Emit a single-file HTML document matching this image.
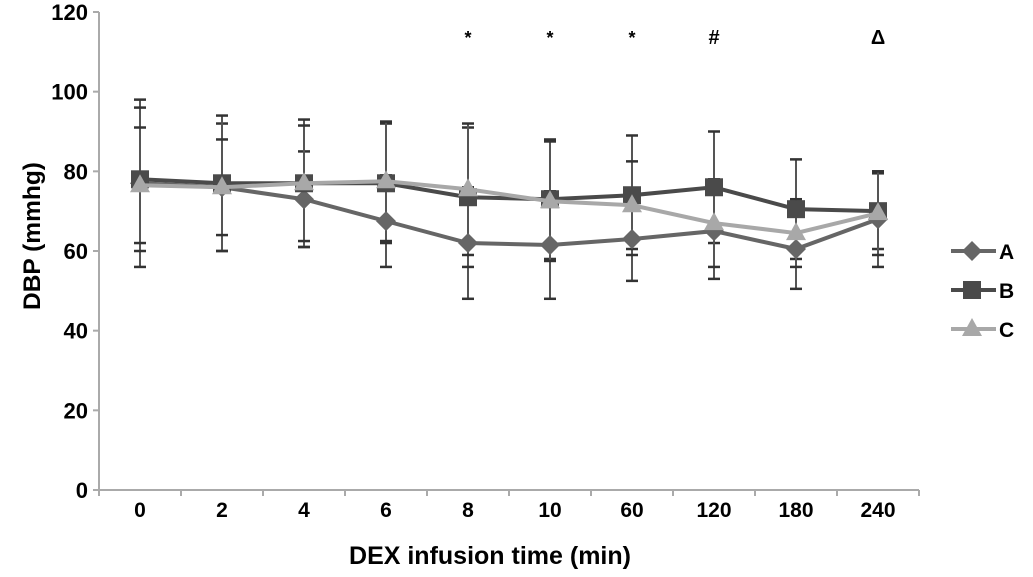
<!DOCTYPE html>
<html><head><meta charset="utf-8"><style>
body{margin:0;background:#fff}
svg text{font-family:"Liberation Sans",Arial,sans-serif;font-weight:bold;fill:#000}
</style></head><body>
<svg id="chart" width="1033" height="572" viewBox="0 0 1033 572" xmlns="http://www.w3.org/2000/svg"></svg>
<script>
const categories=["0","2","4","6","8","10","60","120","180","240"];
const seriesA=[77,76,73,67.5,62,61.5,63,65,60.5,68];
const seriesB=[78,77,77,77,73.5,73,74,76,70.5,70];
const seriesC=[76.5,76,77,77.5,75.5,72.5,71.5,67,64.5,69.5];
const sdA=[21,16,12,11.5,14,13.5,10.5,12,10,12];
const sdB=[18,17,16,15,17.5,15,15,14,12.5,9.5];
const sdC=[14.5,12,14.5,15,16.5,15,11,11,8.5,10.5];
const yTicks=[0,20,40,60,80,100,120];
const annotations=["","","","","*","*","*","#","","Δ"];

const svg=document.getElementById('chart');
const NS='http://www.w3.org/2000/svg';
const x0=99,x1=919,yTop=12,yBot=490,yMax=120;
const bw=(x1-x0)/categories.length;
function xs(i){return x0+bw*(i+0.5);}
function ys(v){return yBot-(v/yMax)*(yBot-yTop);}
function mk(tag,attrs,parent){const e=document.createElementNS(NS,tag);for(const k in attrs)e.setAttribute(k,attrs[k]);(parent||svg).appendChild(e);return e;}

const axes=mk('g',{});


mk('line',{x1:x0,y1:yTop,x2:x0,y2:yBot,stroke:'#aaa','stroke-width':2},axes);
mk('line',{x1:x0-6,y1:yBot,x2:x1,y2:yBot,stroke:'#aaa','stroke-width':2},axes);
yTicks.forEach(v=>{
  mk('line',{x1:x0-6,y1:ys(v),x2:x0,y2:ys(v),stroke:'#aaa','stroke-width':2},axes);
  const t=mk('text',{x:x0-11,y:ys(v)+8,'text-anchor':'end','font-size':22},axes);
  
  
  t.textContent=v;
});
for(let i=0;i<=categories.length;i++){
  mk('line',{x1:x0+bw*i,y1:yBot,x2:x0+bw*i,y2:yBot+6,stroke:'#aaa','stroke-width':2},axes);
}
categories.forEach((c,i)=>{
  const t=mk('text',{x:xs(i),y:yBot+27,'text-anchor':'middle','font-size':21},axes);
  
  
  t.textContent=c;
  if(annotations[i]){
    const a=mk('text',{x:xs(i),y:44,'text-anchor':'middle','font-size':annotations[i]==='*'?18:20,'font-weight':annotations[i]==='*'?'normal':'bold'},svg);
    
    
    a.textContent=annotations[i];
  }
});
const xt=mk('text',{x:490,y:564,'text-anchor':'middle','font-size':25});


xt.textContent='DEX infusion time (min)';
const yt=mk('text',{x:0,y:0,'text-anchor':'middle','font-size':24.5,transform:'translate(40,236) rotate(-90)'});


yt.textContent='DBP (mmhg)';

function errs(vals,sd){
  const g=mk('g',{});
  
  
  vals.forEach((v,i)=>{
    const x=xs(i),hi=ys(v+sd[i]),lo=ys(v-sd[i]);
    mk('line',{x1:x,y1:hi,x2:x,y2:lo,stroke:'#555','stroke-width':2},g);
    mk('line',{x1:x-6,y1:hi,x2:x+6,y2:hi,stroke:'#333','stroke-width':2.5},g);
    mk('line',{x1:x-6,y1:lo,x2:x+6,y2:lo,stroke:'#333','stroke-width':2.5},g);
  });
}
errs(seriesA,sdA);errs(seriesB,sdB);errs(seriesC,sdC);

function marker(g,shape,x,y,col){
  if(shape==='d')return mk('polygon',{points:`${x},${y-10} ${x+10},${y} ${x},${y+10} ${x-10},${y}`,fill:col},g);
  if(shape==='s')return mk('rect',{x:x-9,y:y-9,width:18,height:18,fill:col},g);
  return mk('polygon',{points:`${x},${y-11} ${x+10},${y+7} ${x-10},${y+7}`,fill:col},g);
}
function series(name,vals,col,shape){
  const g=mk('g',{});
  
  
  mk('polyline',{points:vals.map((v,i)=>xs(i)+','+ys(v)).join(' '),fill:'none',stroke:col,'stroke-width':4},g);
  vals.forEach((v,i)=>{
    const m=marker(g,shape,xs(i),ys(v),col);
    
    
  });
}
series('a',seriesA,'#666','d');
series('b',seriesB,'#4a4a4a','s');
series('c',seriesC,'#a8a8a8','t');

const legend=[['A','#666','d',251],['B','#4a4a4a','s',290],['C','#a8a8a8','t',329]];
legend.forEach(l=>{
  const g=mk('g',{});
  
  
  mk('line',{x1:951,y1:l[3],x2:996,y2:l[3],stroke:l[1],'stroke-width':4},g);
  marker(g,l[2],972,l[3],l[1]);
  const t=mk('text',{x:999,y:l[3]+8,'font-size':21},g);
  t.textContent=l[0];
});
</script>
</body></html>
